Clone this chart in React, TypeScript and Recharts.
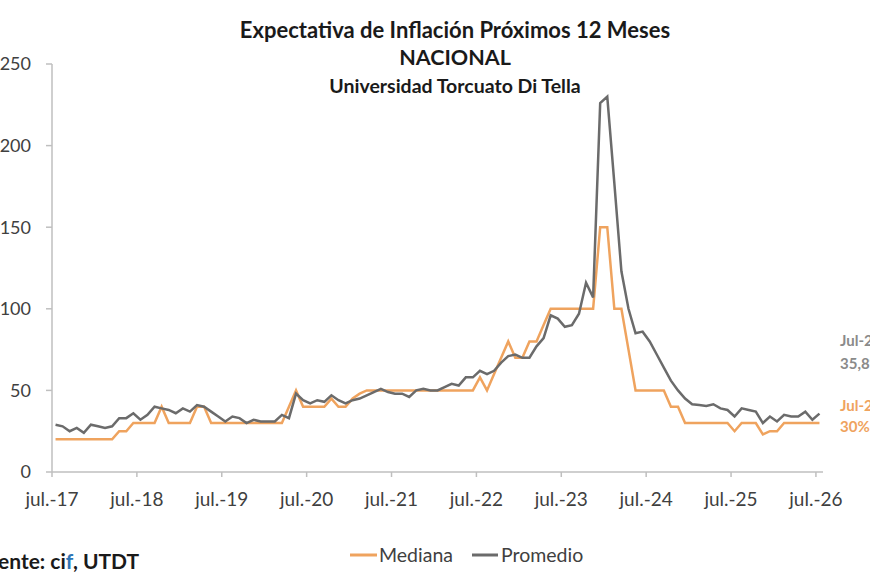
import React from 'react';
import { LineChart, Line, XAxis, YAxis, Customized } from 'recharts';

const X_LABELS = ['jul.-17', 'jul.-18', 'jul.-19', 'jul.-20', 'jul.-21', 'jul.-22', 'jul.-23', 'jul.-24', 'jul.-25', 'jul.-26'];
const X_TICKS = [0, 12, 24, 36, 48, 60, 72, 84, 96, 108];
const Y_TICKS = [0, 50, 100, 150, 200, 250];

// Monthly values from jul.-17 onward
const mediana = [
  20, 20, 20, 20, 20, 20, 20, 20, 20,
  25, 25,
  30, 30, 30, 30,
  40,
  30, 30, 30, 30,
  40, 40,
  30, 30, 30, 30, 30, 30, 30, 30, 30, 30, 30,
  40, 50,
  40, 40, 40, 40,
  45, 40, 40, 45, 48,
  50, 50, 50, 50, 50, 50, 50, 50, 50, 50, 50, 50, 50, 50, 50, 50,
  58, 50, 60, 70, 80, 70, 70, 80, 80, 90,
  100, 100, 100, 100, 100, 100, 100,
  150, 150, 100, 100, 75,
  50, 50, 50, 50, 50,
  40, 40,
  30, 30, 30, 30, 30, 30, 30,
  25, 30, 30, 30, 23, 25, 25,
  30, 30, 30, 30, 30, 30,
];

const promedio = [
  29, 28, 25, 27, 24, 29, 28, 27, 28, 33,
  33, 36, 32, 35, 40, 39, 38, 36, 39, 37,
  41, 40, 37, 34, 31, 34, 33, 30, 32, 31,
  31, 31, 35, 33, 48, 44, 42, 44, 43, 47,
  44, 42, 44, 45, 47, 49, 51, 49, 48, 48,
  46, 50, 51, 50, 50, 52, 54, 53, 58, 58,
  62, 60, 62, 67, 71, 72, 70, 70, 77, 82,
  96, 94, 89, 90, 97, 116, 107, 226, 230, 177,
  123, 100, 85, 86, 80, 72, 64, 56, 50, 45,
  41.5, 41, 40.5, 41.5, 39, 38, 34, 39, 38, 37,
  30, 34, 31, 35, 34, 34, 37, 32, 35.8,
];

const FONT = 'Lato, "Open Sans", sans-serif';
const ORANGE = '#EFA35E';
const GRAY = '#6B6B6B';

const data = mediana.map((m, i) => ({ x: i + 0.5, mediana: m, promedio: promedio[i] }));

const lastProm = String(promedio[promedio.length - 1]).replace('.', ',') + '%';
const lastMed = String(mediana[mediana.length - 1]) + '%';

function Overlay() {
  return (
    <g fontFamily={FONT}>
      <text x={455} y={38} textAnchor="middle" fontSize={22} fontWeight={700} fill="#1a1a1a">
        Expectativa de Inflación Próximos 12 Meses
      </text>
      <text x={455} y={65} textAnchor="middle" fontSize={21.5} fontWeight={700} fill="#1a1a1a">
        NACIONAL
      </text>
      <text x={455} y={93} textAnchor="middle" fontSize={19.5} fontWeight={700} fill="#1a1a1a">
        Universidad Torcuato Di Tella
      </text>

      <text x={840} y={346} fontSize={15} fontWeight={700} fill="#8a8a8a">Jul-26</text>
      <text x={840} y={369} fontSize={15} fontWeight={700} fill="#8a8a8a">{lastProm}</text>
      <text x={840} y={411} fontSize={15} fontWeight={700} fill={ORANGE}>Jul-26</text>
      <text x={840} y={432} fontSize={15} fontWeight={700} fill={ORANGE}>{lastMed}</text>

      <line x1={350} y1={555} x2={377} y2={555} stroke={ORANGE} strokeWidth={3} />
      <text x={379} y={562} fontSize={19.5} fill="#404040">Mediana</text>
      <line x1={472} y1={555} x2={498} y2={555} stroke={GRAY} strokeWidth={3} />
      <text x={501} y={562} fontSize={19.5} fill="#404040">Promedio</text>

      <text x={-25} y={569} fontSize={21} fontWeight={700} fill="#1a1a1a">
        Fuente: ci<tspan fill="#2E75B6">f</tspan>, UTDT
      </text>
    </g>
  );
}

export default function App() {
  return (
    <div style={{ position: 'absolute', left: 0, top: 0, width: 870, height: 580, overflow: 'hidden', background: '#fff' }}>
      <LineChart width={870} height={580} data={data} margin={{ top: 64, right: 47, bottom: 68, left: 0 }}>
        <XAxis
          type="number"
          dataKey="x"
          domain={[0, 109]}
          ticks={X_TICKS}
          interval={0}
          tickFormatter={(v: number) => X_LABELS[X_TICKS.indexOf(v)]}
          height={40}
          tickSize={5}
          tickMargin={16}
          axisLine={{ stroke: '#BFBFBF', strokeWidth: 1.5 }}
          tickLine={{ stroke: '#BFBFBF', strokeWidth: 1.5 }}
          tick={{ fill: '#404040', fontSize: 19, fontFamily: FONT }}
        />
        <YAxis
          type="number"
          domain={[0, 250]}
          ticks={Y_TICKS}
          interval={0}
          width={52}
          tickSize={6}
          tickMargin={15}
          axisLine={{ stroke: '#BFBFBF', strokeWidth: 1.5 }}
          tickLine={{ stroke: '#BFBFBF', strokeWidth: 1.5 }}
          tick={{ fill: '#404040', fontSize: 18, fontFamily: FONT }}
        />
        <Line type="linear" dataKey="mediana" stroke={ORANGE} strokeWidth={2.5} dot={false} isAnimationActive={false} />
        <Line type="linear" dataKey="promedio" stroke={GRAY} strokeWidth={2.5} dot={false} isAnimationActive={false} />
        <Customized component={Overlay} />
      </LineChart>
    </div>
  );
}
